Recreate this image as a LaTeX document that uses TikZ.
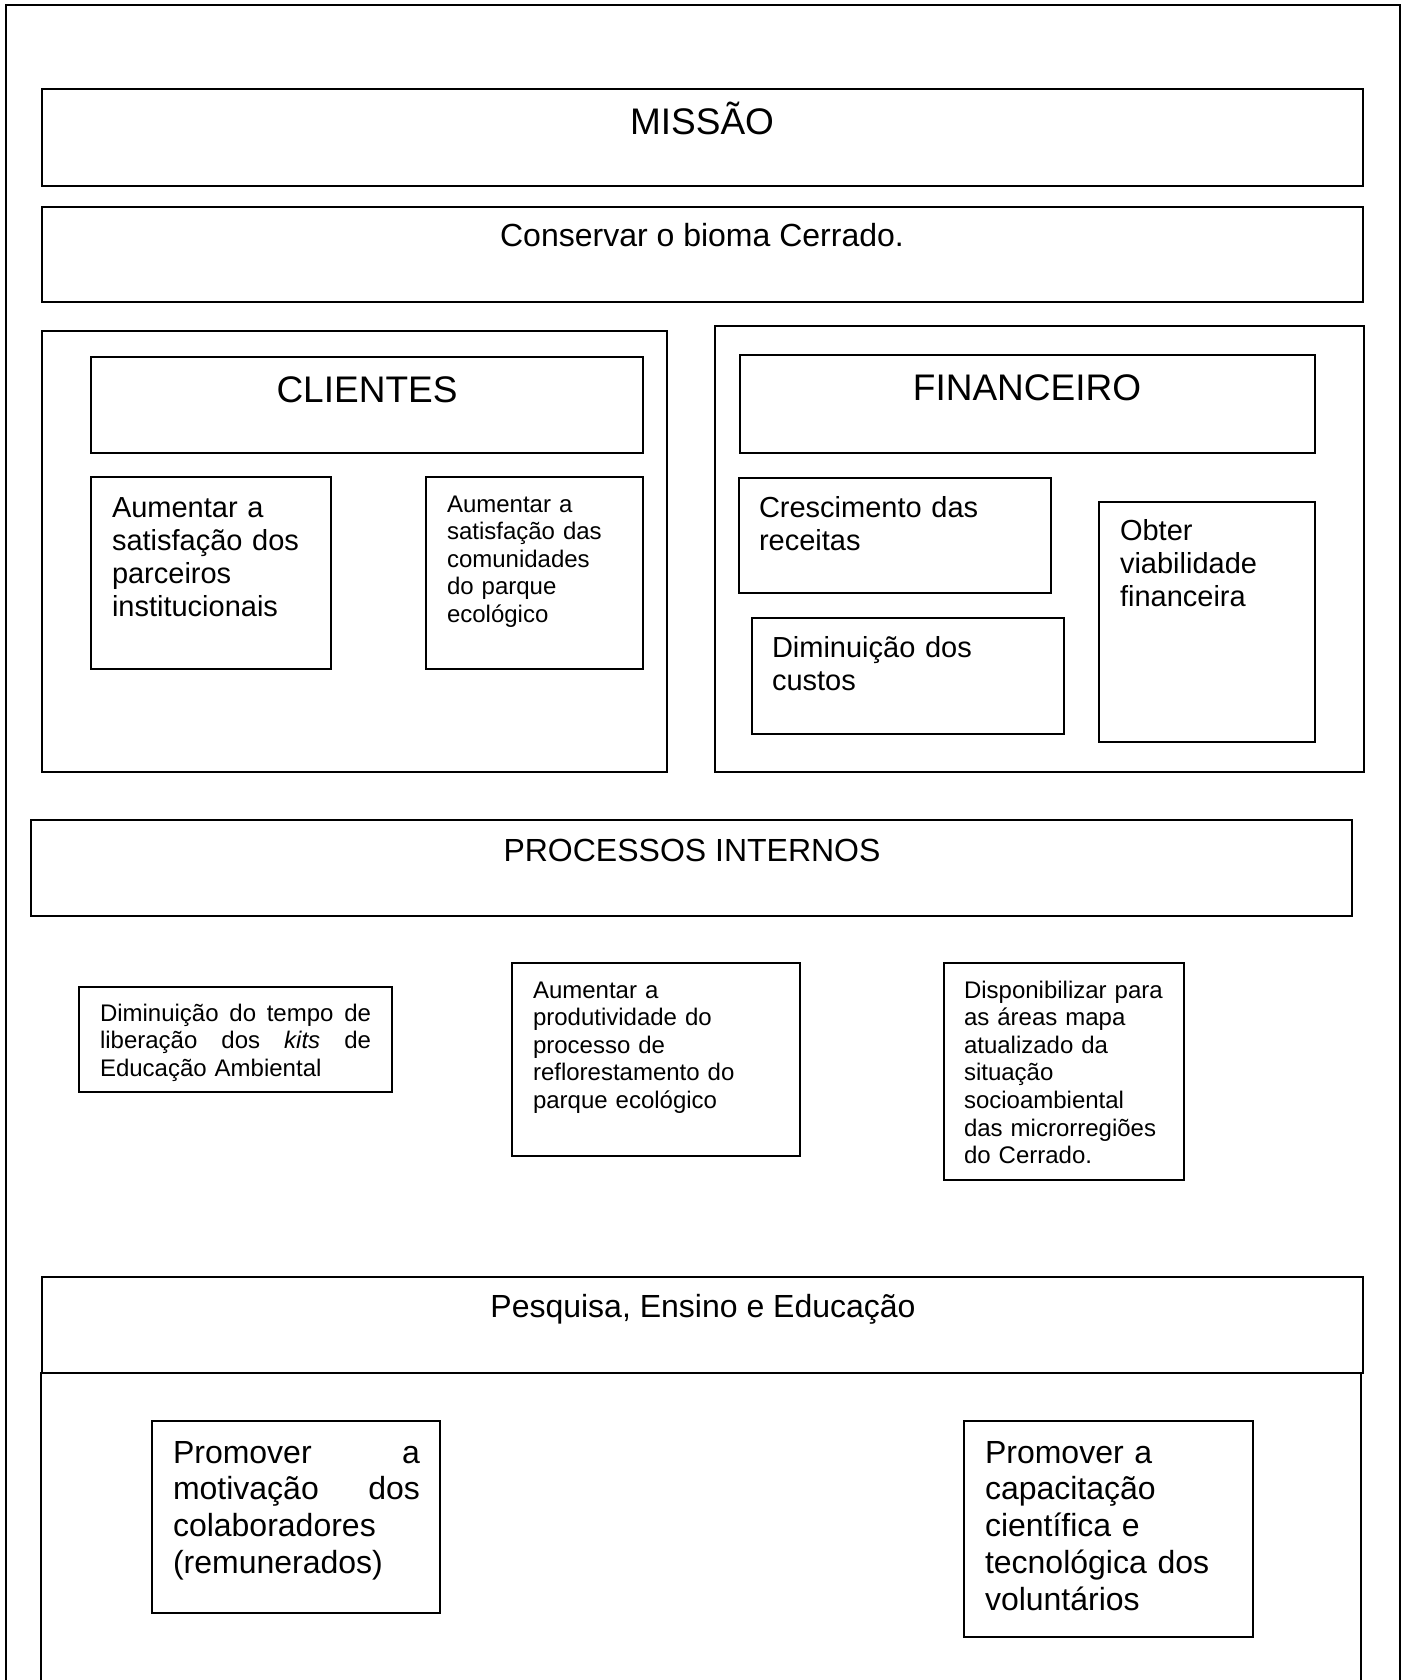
\documentclass[tikz,border=0pt]{standalone}
\usepackage{fontspec}
\setmainfont{Liberation Sans}
\usetikzlibrary{fit}
\tikzset{
  bx/.style={draw, line width=0.8pt, inner sep=0pt, outer sep=0pt},
  ln/.style={line width=0.8pt},
  tx/.style={inner sep=0pt, outer sep=0pt, align=left, text width=170pt},
  ctx/.style={inner sep=0pt, outer sep=0pt, anchor=base},
  fbig/.style={font=\fontsize{18.5}{21.3}\selectfont},
  fmed/.style={font=\fontsize{16}{18.4}\selectfont},
  fnorm/.style={font=\fontsize{14.5}{16.6}\selectfont},
  fsmall/.style={font=\fontsize{12}{13.8}\selectfont},
}
\newcommand\jline[2]{\leavevmode\hbox to #1{#2}}
\begin{document}
\begin{tikzpicture}[x=0.5pt,y=-0.5pt]
\useasboundingbox (0,0) rectangle (1408,1680);
\fill[white] (0,0) rectangle (1408,1680);
% outer frame (open at the bottom)
\coordinate (fbl) at (6,1680);
\coordinate (ftl) at (6,5);
\coordinate (ftr) at (1400,5);
\coordinate (fbr) at (1400,1680);
\draw[ln] (fbl) -- (ftl) -- (ftr) -- (fbr);

% mission
\node[bx, fit={(42,89) (1363,186)}] (mis) {};
\node[ctx, fbig] (misT) at (702,135) {MISSÃO};
\node[bx, fit={(42,207) (1363,302)}] (cons) {};
\node[ctx, fmed] (consT) at (702,247) {Conservar o bioma Cerrado.};

% clientes
\node[bx, fit={(42,331) (667,772)}] (cli) {};
\node[bx, fit={(91,357) (643,453)}] (cliH) {};
\node[ctx, fbig] (cliT) at (367,402) {CLIENTES};
\node[bx, fit={(91,477) (331,669)}] (a1) {};
\node[tx, fnorm, anchor=base west] (a1T) at (112,517) {Aumentar a\\satisfação dos\\parceiros\\institucionais};
\node[bx, fit={(426,477) (643,669)}] (a2) {};
\node[tx, fsmall, anchor=base west] (a2T) at (447,512) {Aumentar a\\satisfação das\\comunidades\\do parque\\ecológico};

% financeiro
\node[bx, fit={(715,326) (1364,772)}] (fin) {};
\node[bx, fit={(740,355) (1315,453)}] (finH) {};
\node[ctx, fbig] (finT) at (1027,400) {FINANCEIRO};
\node[bx, fit={(739,478) (1051,593)}] (cres) {};
\node[tx, fnorm, anchor=base west] (cresT) at (759,517) {Crescimento das\\receitas};
\node[bx, fit={(752,618) (1064,734)}] (dim) {};
\node[tx, fnorm, anchor=base west] (dimT) at (772,657) {Diminuição dos\\custos};
\node[bx, fit={(1099,502) (1315,742)}] (obt) {};
\node[tx, fnorm, anchor=base west] (obtT) at (1120,540) {Obter\\viabilidade\\financeira};

% processos internos
\node[bx, fit={(31,820) (1352,916)}] (proc) {};
\node[ctx, fmed] (procT) at (692,861) {PROCESSOS INTERNOS};
\node[bx, fit={(79,987) (392,1092)}] (p1) {};
\node[tx, fsmall, text width=135.5pt, anchor=base west] (p1T) at (100,1021)
  {\jline{135.5pt}{Diminuição\hfill do\hfill tempo\hfill de}\\\jline{135.5pt}{liberação\hfill dos\hfill \textit{kits}\hfill de}\\Educação Ambiental};
\node[bx, fit={(512,963) (800,1156)}] (p2) {};
\node[tx, fsmall, anchor=base west] (p2T) at (533,998) {Aumentar a\\produtividade do\\processo de\\reflorestamento do\\parque ecológico};
\node[bx, fit={(944,963) (1184,1180)}] (p3) {};
\node[tx, fsmall, anchor=base west] (p3T) at (964,998) {Disponibilizar para\\as áreas mapa\\atualizado da\\situação\\socioambiental\\das microrregiões\\do Cerrado.};

% pesquisa, ensino e educacao
\node[bx, fit={(42,1277) (1363,1373)}] (pesq) {};
\node[ctx, fmed] (pesqT) at (703,1317) {Pesquisa, Ensino e Educação};
\coordinate (lbl) at (41,1680);
\coordinate (ltl) at (41,1373);
\coordinate (ltr) at (1361,1373);
\coordinate (lbr) at (1361,1680);
\draw[ln] (lbl) -- (ltl) -- (ltr) -- (lbr);
\node[bx, fit={(152,1421) (440,1613)}] (r1) {};
\node[tx, fmed, text width=123.5pt, anchor=base west] (r1T) at (173,1463)
  {\jline{123.5pt}{Promover\hfill a}\\\jline{123.5pt}{motivação\hfill dos}\\colaboradores\\(remunerados)};
\node[bx, fit={(964,1421) (1253,1637)}] (r2) {};
\node[tx, fmed, anchor=base west] (r2T) at (985,1463) {Promover a\\capacitação\\científica e\\tecnológica dos\\voluntários};
\end{tikzpicture}
\end{document}
